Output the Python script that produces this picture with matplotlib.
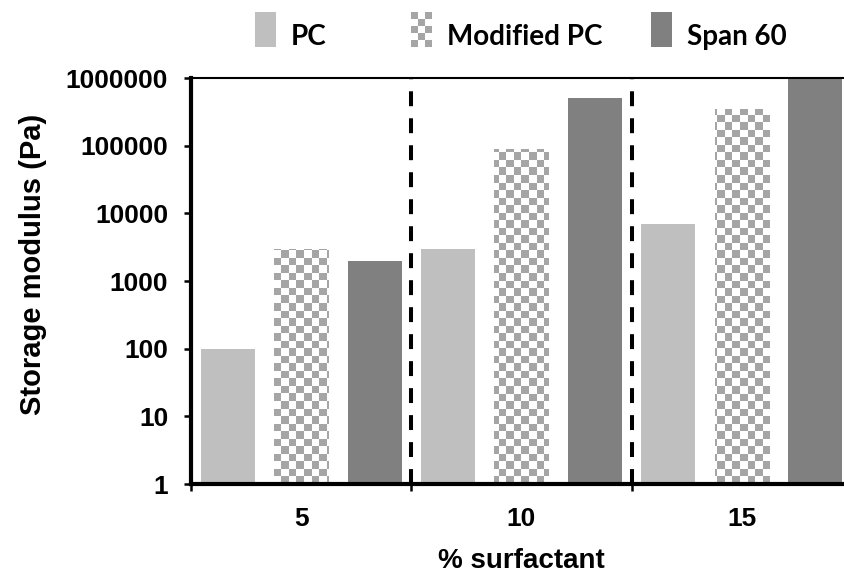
import numpy as np
import matplotlib
matplotlib.use('Agg')
import matplotlib.pyplot as plt
from matplotlib.patches import Rectangle, Patch
from matplotlib.image import AxesImage
from matplotlib.colors import ListedColormap

# data
categories = ['5', '10', '15']
series = ['PC', 'Modified PC', 'Span 60']
pc_vals = [100, 3000, 7000]
modified_pc_vals = [3000, 90000, 350000]
span60_vals = [2000, 500000, 1000000]
ytick_vals = [1, 10, 100, 1000, 10000, 100000, 1000000]
ytick_labels = ['1', '10', '100', '1000', '10000', '100000', '1000000']

PC_GREY = '#bfbfbf'
SPAN_GREY = '#808080'
CHECK_GREY = '#a5a5a5'
LEGEND_FONT = 'Lato'
AXIS_FONT = 'Liberation Sans'

# legend key box, in points relative to the text baseline
KEY_W = 15.1
KEY_BOTTOM = -1.4
KEY_TOP = 23.8


class KeyHandler:
    """ tall legend key, plain grey or a 3x5 checkerboard """
    def __init__(self, color=None):
        self.color = color

    def legend_artist(self, legend, orig_handle, fontsize, handlebox):
        tr = handlebox.get_transform()
        x0 = -handlebox.xdescent
        h = KEY_TOP - KEY_BOTTOM
        if self.color is not None:
            rect = Rectangle((x0, KEY_BOTTOM), KEY_W, h, facecolor=self.color,
                             edgecolor='none', transform=tr)
            handlebox.add_artist(rect)
            return rect
        ncol, nrow = 3, 5
        cw, ch = KEY_W / ncol, h / nrow
        for r in range(nrow):
            for c in range(ncol):
                col = CHECK_GREY if (r + c) % 2 == 0 else 'white'
                rect = Rectangle((x0 + c * cw, KEY_TOP - (r + 1) * ch), cw, ch,
                                 facecolor=col, edgecolor='none', transform=tr)
                handlebox.add_artist(rect)
        return rect


fig = plt.figure(figsize=(8.45, 5.78), dpi=100)
ax = fig.add_axes([0.2262, 0.1626, 0.7818, 0.7024])
ax.set_yscale('log')

n_series = len(series)
group_x = np.arange(len(categories)) * n_series
bar_w = 0.736

ax.bar(group_x + 0, pc_vals, bar_w, color=PC_GREY, zorder=1)
mod_bars = ax.bar(group_x + 1, modified_pc_vals, bar_w, color='white', zorder=1)
ax.bar(group_x + 2, span60_vals, bar_w, color=SPAN_GREY, zorder=1)

# checker fill for the modified PC bars: one image in axes coords, clipped to each bar
ny, nx = 54, 88
checker = np.indices((ny, nx)).sum(axis=0) % 2
for bar in mod_bars:
    im = AxesImage(ax, cmap=ListedColormap(['white', CHECK_GREY]),
                   interpolation='nearest', extent=(0, 1, 0, 1), origin='upper',
                   transform=ax.transAxes)
    im.set_data(checker)
    im.set_zorder(1.5)
    ax.add_image(im)
    im.set_clip_path(bar)

# dashed separators between concentration groups
for gx in group_x[1:]:
    ax.axvline(gx - 0.5, color='black', lw=2.9, dashes=(3.7, 3.0), zorder=3)

ax.set_xlim(-0.5, len(categories) * n_series - 0.5)
ax.set_ylim(1, 1000000)

ax.set_yticks(ytick_vals)
ax.set_yticklabels(ytick_labels)
ax.yaxis.set_minor_locator(matplotlib.ticker.NullLocator())
ax.tick_params(axis='y', direction='out', length=5, width=1.8, pad=11.5)

ax.set_xticks(np.arange(len(categories) + 1) * n_series - 0.5)
ax.set_xticklabels([])
ax.set_xticks(group_x + 1, minor=True)
ax.set_xticklabels(categories, minor=True)
ax.tick_params(axis='x', which='major', direction='out', length=5, width=1.8)
ax.tick_params(axis='x', which='minor', length=0, pad=16.5)

for lab in ax.get_xticklabels(minor=True) + ax.get_yticklabels():
    lab.set_fontfamily(AXIS_FONT)
    lab.set_fontweight('bold')
    lab.set_fontsize(19)

ax.spines['right'].set_visible(False)
ax.spines['left'].set_linewidth(3)
ax.spines['bottom'].set_linewidth(3)
ax.spines['top'].set_linewidth(1.5)

ax.set_ylabel('Storage modulus (Pa)', fontfamily=AXIS_FONT, fontweight='bold',
              fontsize=21, va='center')
ax.yaxis.set_label_coords(-0.239, 0.542)
ax.set_xlabel('% surfactant', fontfamily=AXIS_FONT, fontweight='bold',
              fontsize=20, va='center')
ax.xaxis.set_label_coords(0.5, -0.19)

# legend: three single entries spread along the top, like the original
key_handlers = [KeyHandler(PC_GREY), KeyHandler(None), KeyHandler(SPAN_GREY)]
legend_x = [255 / 845, 411 / 845, 651 / 845]
leg_fs = 20
for handler, name, lx in zip(key_handlers, series, legend_x):
    h = Patch(facecolor='white', label=name)
    fig.legend([h], [name], loc='upper left', bbox_to_anchor=(lx, 1 - 23.5 / 578),
               frameon=False, borderpad=0, borderaxespad=0,
               handlelength=KEY_W / leg_fs, handleheight=0.906,
               handletextpad=0.54,
               prop={'family': LEGEND_FONT, 'weight': 'bold', 'size': leg_fs},
               handler_map={h: handler})

fig.savefig('out.png', dpi=100)
